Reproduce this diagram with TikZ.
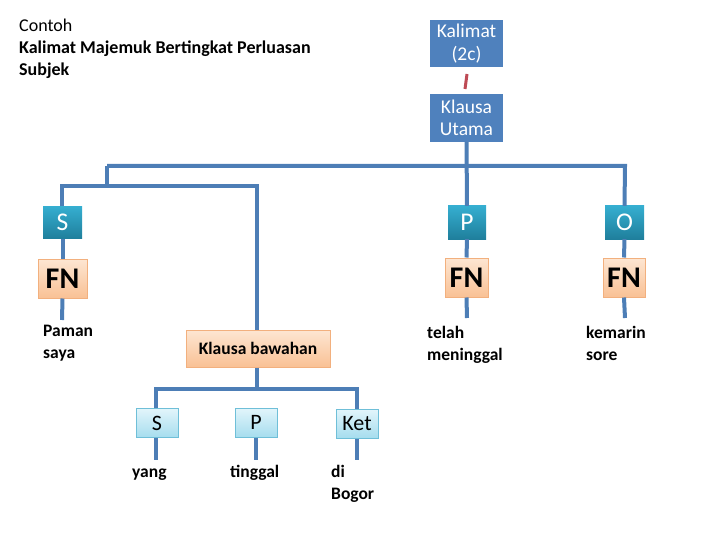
\documentclass[tikz,border=0pt]{standalone}
\usepackage{fontspec}
\setmainfont{Carlito}
\definecolor{boxblue}{HTML}{4F81BD}
\definecolor{linkblue}{HTML}{4D7EB6}
\definecolor{linkred}{HTML}{BE4B55}
\definecolor{tealtop}{HTML}{35AED0}
\definecolor{tealbot}{HTML}{1F7F9C}
\definecolor{peachtop}{HTML}{FDE6D2}
\definecolor{peachbot}{HTML}{F9C195}
\definecolor{peachline}{HTML}{F2B07E}
\definecolor{cyantop}{HTML}{E2F5FB}
\definecolor{cyanbot}{HTML}{A6DDEE}
\definecolor{cyanline}{HTML}{6FBFD8}
\tikzset{
  link/.style={draw=linkblue, line width=4pt},
  bluebox/.style={fill=boxblue, text=white, inner sep=0pt, align=center,
    font=\fontsize{19.5}{22.5}\selectfont},
  tealbox/.style={top color=tealtop, bottom color=tealbot, text=white, inner sep=0pt,
    font=\fontsize{25.5}{28}\selectfont},
  fnbox/.style={top color=peachtop, bottom color=peachbot, draw=peachline, line width=1pt,
    inner sep=0pt, font=\fontsize{30}{32}\selectfont\bfseries},
  kbbox/.style={top color=peachtop, bottom color=peachbot, draw=peachline, line width=1pt,
    inner sep=0pt, font=\fontsize{17.5}{20}\selectfont\bfseries},
  ltbox/.style={top color=cyantop, bottom color=cyanbot, draw=cyanline, line width=1pt,
    inner sep=0pt, font=\fontsize{22}{24}\selectfont},
  leaf/.style={anchor=base west, inner sep=0pt,
    font=\fontsize{17.5}{22}\selectfont\bfseries},
  ttl/.style={anchor=base west, inner sep=0pt, font=\fontsize{18}{22}\selectfont},
}
\begin{document}
\begin{tikzpicture}[x=1pt, y=-1pt]
\useasboundingbox (0,0) rectangle (720,540);
% title
\node[ttl] (t1) at (19,32) {Contoh};
\node[ttl, font=\fontsize{18}{22}\selectfont\bfseries] (t2) at (19,54) {Kalimat Majemuk Bertingkat Perluasan};
\node[ttl, font=\fontsize{18}{22}\selectfont\bfseries] (t3) at (19,76) {Subjek};
% top boxes
\node[bluebox, minimum width=73pt, minimum height=47pt] (kal) at (466.5,43.5) {Kalimat\\(2c)};
\node[bluebox, minimum width=73pt, minimum height=48pt] (ku) at (466.5,118) {Klausa\\Utama};
\coordinate (r1) at (467,74);
\coordinate (r2) at (465,89);
\draw[draw=linkred, line width=3pt] (r1) -- (r2);
% main clause constituents
\node[tealbox, minimum width=39pt, minimum height=32pt] (S) at (62.5,222.5) {S};
\node[fnbox, minimum width=49pt, minimum height=39pt] (fn1) at (62.5,278.5) {FN};
\node[tealbox, minimum width=38pt, minimum height=33pt] (P) at (467,222.5) {P};
\node[fnbox, minimum width=43pt, minimum height=39pt] (fn2) at (466.5,277.5) {FN};
\node[tealbox, minimum width=39pt, minimum height=33pt] (O) at (624.5,222.5) {O};
\node[fnbox, minimum width=42pt, minimum height=39pt] (fn3) at (624,277.5) {FN};
\node[kbbox, minimum width=144pt, minimum height=37pt] (kb) at (258,348.5) {Klausa bawahan};
% sub clause
\node[ltbox, minimum width=42pt, minimum height=29pt] (s2) at (157,423) {S};
\node[ltbox, minimum width=42pt, minimum height=29pt] (p2) at (256,422.5) {P};
\node[ltbox, minimum width=42pt, minimum height=29pt] (k2) at (357,423.5) {Ket};
% junctions
\coordinate (j1) at (107,166);
\coordinate (j2) at (625,166);
\coordinate (j3) at (107,186);
\coordinate (j4) at (62,186);
\coordinate (j5) at (257,186);
\coordinate (j6) at (257,389);
\coordinate (j7) at (156,389);
\coordinate (j8) at (357,389);
\coordinate (e1) at (62,320);
\coordinate (e2) at (467,318);
\coordinate (e3) at (625,318);
\coordinate (e4) at (156,460);
\coordinate (e5) at (256,460);
\coordinate (e6) at (357,460);
% connectors
\draw[link] (ku.south) -- (P.north);
\draw[link] (j1) -- (j2) -- (O.north);
\draw[link] (j1) -- (j3);
\draw[link] (S.north -| j4) |- (j5) -- (kb.north -| j5);
\draw[link] (S.south) -- (fn1.north);
\draw[link] (fn1.south) -- (e1);
\draw[link] (P.south) -- (fn2.north);
\draw[link] (fn2.south) -- (e2);
\draw[link] (O.south) -- (fn3.north);
\draw[link] (fn3.south) -- (e3);
\draw[link] (kb.south -| j6) -- (j6);
\draw[link] (s2.north -| j7) |- (j8) -- (k2.north -| j8);
\draw[link] (s2.south -| e4) -- (e4);
\draw[link] (p2.south) -- (e5);
\draw[link] (k2.south) -- (e6);
% leaves
\node[leaf] (l1a) at (43,336.5) {Paman};
\node[leaf] (l1b) at (43,358.5) {saya};
\node[leaf] (l2a) at (427,338) {telah};
\node[leaf] (l2b) at (427,360) {meninggal};
\node[leaf] (l3a) at (586,338) {kemarin};
\node[leaf] (l3b) at (586,360) {sore};
\node[leaf] (l4) at (132,477.5) {yang};
\node[leaf] (l5) at (230,477.5) {tinggal};
\node[leaf] (l6a) at (331,477.5) {di};
\node[leaf] (l6b) at (331,499.5) {Bogor};
\end{tikzpicture}
\end{document}
